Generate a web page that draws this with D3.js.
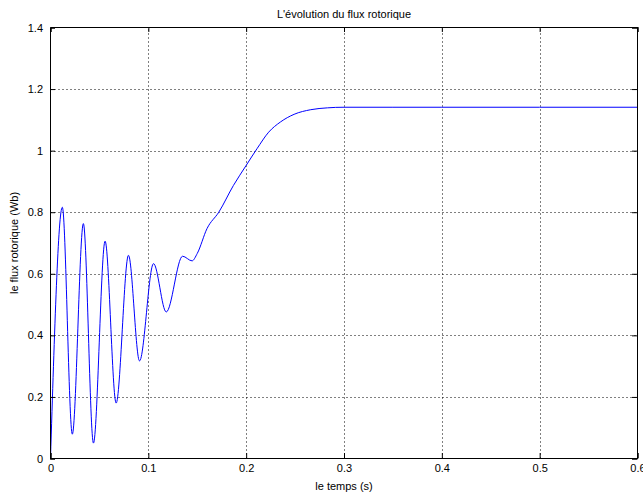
<!DOCTYPE html>
<html>
<head>
<meta charset="utf-8">
<script src="https://cdn.jsdelivr.net/npm/d3@7"></script>
<style>
  body { margin: 0; background: #fff; }
  svg text { font-family: "Liberation Sans Narrow", "Liberation Sans", Arial, sans-serif; font-size: 11px; fill: #000; }
</style>
</head>
<body>
<svg class="chart"></svg>
<script>
let title = "L'évolution du flux rotorique"
let x_label = "le temps (s)"
let y_label = "le flux rotorique (Wb)"

let x_ticks = [0, 0.1, 0.2, 0.3, 0.4, 0.5, 0.6]
let y_ticks = [0, 0.2, 0.4, 0.6, 0.8, 1, 1.2, 1.4]

// flux curve (time in s, flux in Wb)
let times = [0, 0.0121, 0.0223, 0.0336, 0.0439, 0.0558, 0.0671, 0.0797, 0.091,
    0.1053, 0.1183, 0.135, 0.1447, 0.150, 0.160, 0.172, 0.187, 0.200, 0.211,
    0.223, 0.235, 0.249, 0.266, 0.283, 0.300, 0.35, 0.4, 0.5, 0.6]
let flux = [0, 0.816, 0.079, 0.763, 0.05, 0.706, 0.18, 0.66, 0.317,
    0.633, 0.476, 0.657, 0.642, 0.666, 0.747, 0.80, 0.887, 0.952, 1.006,
    1.06, 1.093, 1.118, 1.133, 1.139, 1.141, 1.141, 1.141, 1.141, 1.141]

let width = 643
let height = 493
let margin = {left: 50, right: 6, top: 27, bottom: 35}

let svg = d3.select(".chart")
    .attr("width", width)
    .attr("height", height)

let x = d3.scaleLinear()
    .domain([0, 0.6])
    .range([margin.left + 0.5, width - margin.right + 0.5])

let y = d3.scaleLinear()
    .domain([0, 1.4])
    .range([height - margin.bottom + 0.5, margin.top + 0.5])

function draw_grid() {
    let grid = svg.append("g").attr("class", "grid")
    grid.selectAll("line.gx")
        .data(x_ticks.slice(1, -1))
        .enter().append("line")
        .attr("x1", d => Math.round(x(d)) + 0.5)
        .attr("x2", d => Math.round(x(d)) + 0.5)
        .attr("y1", y(0))
        .attr("y2", y(1.4))
        .attr("stroke", "#000")
        .attr("stroke-dasharray", "1,3")
    grid.selectAll("line.gy")
        .data(y_ticks.slice(1, -1))
        .enter().append("line")
        .attr("y1", d => Math.round(y(d)) + 0.5)
        .attr("y2", d => Math.round(y(d)) + 0.5)
        .attr("x1", x(0))
        .attr("x2", x(0.6))
        .attr("stroke", "#000")
        .attr("stroke-dasharray", "1,3")
}

function draw_axes() {
    let x_axis = d3.axisBottom(x).tickValues(x_ticks).tickSize(-5).tickPadding(6)
        .tickFormat(d => d3.format("")(d))
    let x_top = d3.axisTop(x).tickValues(x_ticks).tickSize(-5).tickFormat("")
    let y_axis = d3.axisLeft(y).tickValues(y_ticks).tickSize(-5).tickPadding(7)
        .tickFormat(d => d3.format("")(d))
    let y_right = d3.axisRight(y).tickValues(y_ticks).tickSize(-5).tickFormat("")

    let gx = svg.append("g").attr("transform", `translate(0,${height - margin.bottom})`).call(x_axis)
    let gxt = svg.append("g").attr("transform", `translate(0,${margin.top})`).call(x_top)
    let gy = svg.append("g").attr("transform", `translate(${margin.left},0)`).call(y_axis)
    let gyr = svg.append("g").attr("transform", `translate(${width - margin.right},0)`).call(y_right)

    ;[gx, gxt, gy, gyr].forEach(g => {
        g.selectAll(".domain").attr("stroke", "#000")
        g.selectAll(".tick line").attr("stroke", "#000")
        g.selectAll("text").attr("font-size", null).attr("font-family", null)
    })
}

function draw_curve() {
    let points = times.map((t, i) => [t, flux[i]])
    let line = d3.line()
        .x(d => x(d[0]))
        .y(d => y(d[1]))
        .curve(d3.curveMonotoneX)
    svg.append("path")
        .datum(points)
        .attr("d", line)
        .attr("fill", "none")
        .attr("stroke", "#0000ff")
        .attr("stroke-width", 1)
}

function draw_labels() {
    let cx = (x(0) + x(0.6)) / 2
    svg.append("text")
        .attr("x", cx)
        .attr("y", 18)
        .attr("text-anchor", "middle")
        .text(title)
    svg.append("text")
        .attr("x", cx)
        .attr("y", 490)
        .attr("text-anchor", "middle")
        .text(x_label)
    svg.append("text")
        .attr("transform", `translate(18,${(y(0) + y(1.4)) / 2}) rotate(-90)`)
        .attr("text-anchor", "middle")
        .text(y_label)
}

draw_grid()
draw_curve()
draw_axes()
draw_labels()
</script>
</body>
</html>
